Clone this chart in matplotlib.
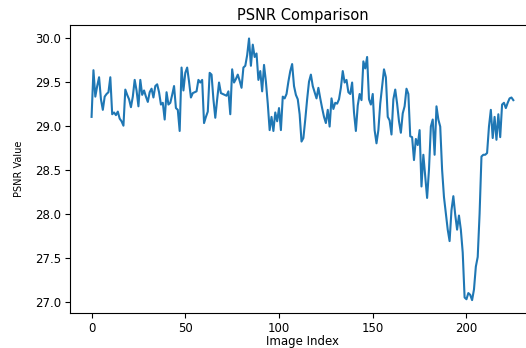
import matplotlib
matplotlib.use("Agg")
import matplotlib.pyplot as plt
import numpy as np

title_text = "PSNR Comparison"
x_label = "Image Index"
y_label = "PSNR Value"

psnr_values = [
    29.10, 29.63, 29.33, 29.45, 29.55, 29.30, 29.18, 29.33, 29.36, 29.38,
    29.55, 29.13, 29.15, 29.12, 29.16, 29.08, 29.05, 29.00, 29.41, 29.35,
    29.30, 29.21, 29.33, 29.52, 29.40, 29.22, 29.52, 29.35, 29.40, 29.33,
    29.27, 29.38, 29.42, 29.32, 29.45, 29.47, 29.38, 29.24, 29.26, 29.07,
    29.38, 29.24, 29.26, 29.35, 29.45, 29.20, 29.18, 28.94, 29.66, 29.40,
    29.60, 29.66, 29.50, 29.32, 29.37, 29.38, 29.39, 29.52, 29.49, 29.52,
    29.03, 29.10, 29.16, 29.60, 29.58, 29.30, 29.09, 29.30, 29.49, 29.37,
    29.36, 29.35, 29.34, 29.39, 29.13, 29.64, 29.49, 29.53, 29.58, 29.51,
    29.43, 29.66, 29.68, 29.80, 29.99, 29.68, 29.92, 29.78, 29.82, 29.52,
    29.62, 29.39, 29.69, 29.50, 29.25, 28.95, 29.10, 28.94, 29.15, 29.05,
    29.20, 28.95, 29.33, 29.31, 29.36, 29.50, 29.62, 29.70, 29.45, 29.35,
    29.30, 29.13, 28.82, 28.86, 29.07, 29.30, 29.50, 29.58, 29.45, 29.38,
    29.31, 29.43, 29.31, 29.20, 29.10, 29.03, 29.18, 28.99, 29.31, 29.19,
    29.26, 29.25, 29.30, 29.43, 29.62, 29.49, 29.52, 29.38, 29.36, 29.49,
    29.15, 28.94, 29.23, 29.36, 29.29, 29.73, 29.65, 29.78, 29.30, 29.24,
    29.36, 28.95, 28.80, 28.95, 29.25, 29.45, 29.64, 29.55, 29.10, 29.06,
    28.90, 29.30, 29.41, 29.25, 29.05, 28.92, 29.14, 29.22, 29.42, 29.36,
    28.88, 28.87, 28.61, 28.85, 28.78, 28.95, 28.31, 28.67, 28.42, 28.18,
    28.50, 28.99, 29.07, 28.67, 29.22, 29.07, 28.99, 28.50, 28.19, 28.01,
    27.82, 27.69, 28.04, 28.20, 27.99, 27.82, 27.98, 27.82, 27.56, 27.05,
    27.03, 27.10, 27.08, 27.02, 27.14, 27.40, 27.51, 28.00, 28.65, 28.67,
    28.67, 28.69, 28.99, 29.18, 28.86, 29.10, 28.84, 29.13, 28.87, 29.24,
    29.26, 29.20, 29.26, 29.31, 29.32, 29.29,
]

fig = plt.figure(figsize=(5.26, 3.48), dpi=100)
ax = fig.add_axes([0.134, 0.100, 0.882, 0.827])
ax.plot(np.arange(len(psnr_values)), psnr_values, color="#1f77b4", linewidth=1.5)
ax.set_title(title_text, fontsize=10.5, pad=4)
ax.set_xlabel(x_label, fontsize=8.5, labelpad=0)
ax.set_ylabel(y_label, fontsize=7, labelpad=8)
ax.tick_params(labelsize=8.5)
ax.tick_params(axis="x", pad=2.5)
ax.spines["right"].set_visible(False)
ax.set_xticks([0, 50, 100, 150, 200])
ax.set_yticks([27.0, 27.5, 28.0, 28.5, 29.0, 29.5, 30.0])
fig.savefig("out.png", dpi=100)
